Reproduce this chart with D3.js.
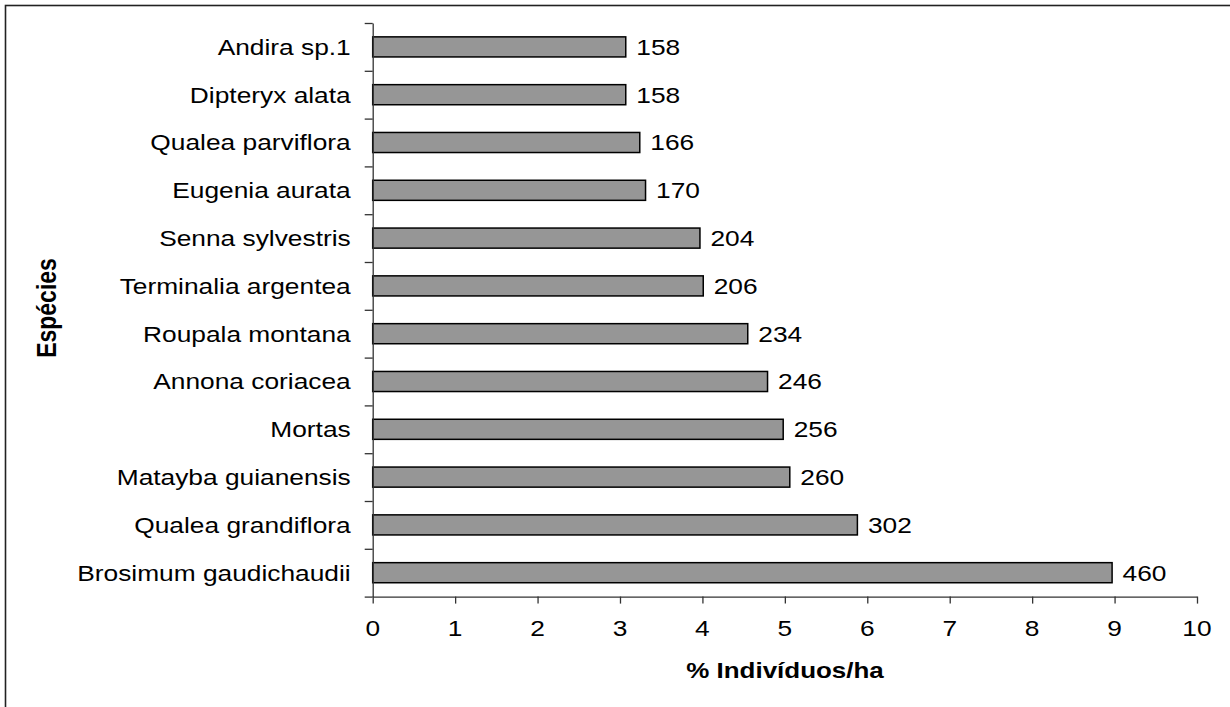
<!DOCTYPE html>
<html>
<head>
<meta charset="utf-8">
<script src="https://cdn.jsdelivr.net/npm/d3@7"></script>
<style>
  html, body { margin: 0; padding: 0; background: #fff; }
  svg { display: block; }
  text { font-family: "Liberation Sans", Arial, sans-serif; fill: #000; }
</style>
</head>
<body>
<svg id="chart" width="1230" height="707"></svg>
<script>
// Data (top to bottom)
const species = [
  "Andira sp.1", "Dipteryx alata", "Qualea parviflora", "Eugenia aurata",
  "Senna sylvestris", "Terminalia argentea", "Roupala montana", "Annona coriacea",
  "Mortas", "Matayba guianensis", "Qualea grandiflora", "Brosimum gaudichaudii"
];
const percents = [3.07, 3.07, 3.24, 3.31, 3.97, 4.01, 4.55, 4.79, 4.98, 5.06, 5.88, 8.97];
const counts = [158, 158, 166, 170, 204, 206, 234, 246, 256, 260, 302, 460];
const xTicks = [0, 1, 2, 3, 4, 5, 6, 7, 8, 9, 10];
const xTitle = "% Indivíduos/ha";
const yTitle = "Espécies";

(function () {
const svg = d3.select("#chart");
const pLeft = 372.7, pRight = 1197, pTop = 23, pBottom = 596.6;
const sx = 1.17; // horizontal text stretch

// outer frame (only top and left visible)
svg.append("rect")
  .attr("x", 5.5).attr("y", 5.5)
  .attr("width", 1300).attr("height", 800)
  .attr("fill", "none").attr("stroke", "#222").attr("stroke-width", 1.6);

const x = d3.scaleLinear().domain([0, 10]).range([pLeft, pRight]);
const y = d3.scaleBand().domain(species).range([pTop, pBottom])
  .paddingInner(0.58).paddingOuter(0.29);
const yIdx = d3.scaleLinear().domain([0, species.length]).range([pTop, pBottom]);

// bars
const data = species.map((s, i) => ({ s, p: percents[i], c: counts[i] }));
svg.append("g").selectAll("rect").data(data).join("rect")
  .attr("x", x(0))
  .attr("y", d => y(d.s))
  .attr("width", d => x(d.p) - x(0))
  .attr("height", y.bandwidth())
  .attr("fill", "#969696")
  .attr("stroke", "#000")
  .attr("stroke-width", 1.5);

// value labels
svg.append("g").selectAll("text").data(data).join("text")
  .attr("transform", d => `translate(${x(d.p) + 10.5},${y(d.s) + y.bandwidth() / 2}) scale(${sx},1)`)
  .attr("dy", "0.35em")
  .attr("font-size", 22.5)
  .text(d => d.c);

// x axis
const xAxis = svg.append("g")
  .attr("transform", `translate(0,${pBottom})`)
  .call(d3.axisBottom(x).tickValues(xTicks).tickSize(7).tickSizeOuter(0).tickFormat(""));
xAxis.selectAll("path, line").attr("stroke", "#333").attr("stroke-width", 1.3);

svg.append("g").selectAll("text").data(xTicks).join("text")
  .attr("transform", d => `translate(${x(d)},${pBottom + 32}) scale(${sx},1)`)
  .attr("dy", "0.35em")
  .attr("text-anchor", "middle")
  .attr("font-size", 22.5)
  .text(d => d);

// y axis with ticks at band boundaries
const yAxis = svg.append("g")
  .attr("transform", `translate(${pLeft},0)`)
  .call(d3.axisLeft(yIdx).tickValues(d3.range(species.length + 1)).tickSize(8).tickSizeOuter(0).tickFormat(""));
yAxis.selectAll("path, line").attr("stroke", "#333").attr("stroke-width", 1.3);

// category labels
svg.append("g").selectAll("text").data(species).join("text")
  .attr("transform", d => `translate(${pLeft - 22},${y(d) + y.bandwidth() / 2}) scale(${sx},1)`)
  .attr("dy", "0.35em")
  .attr("text-anchor", "end")
  .attr("font-size", 22.5)
  .text(d => d);

// axis titles
svg.append("text")
  .attr("transform", `translate(785,670) scale(1.18,1)`)
  .attr("dy", "0.35em")
  .attr("text-anchor", "middle")
  .attr("font-size", 22)
  .attr("font-weight", "bold")
  .text(xTitle);

svg.append("text")
  .attr("transform", `translate(47,308) scale(${sx},1) rotate(-90)`)
  .attr("dy", "0.35em")
  .attr("text-anchor", "middle")
  .attr("font-size", 23)
  .attr("font-weight", "bold")
  .text(yTitle);
})();
</script>
</body>
</html>
